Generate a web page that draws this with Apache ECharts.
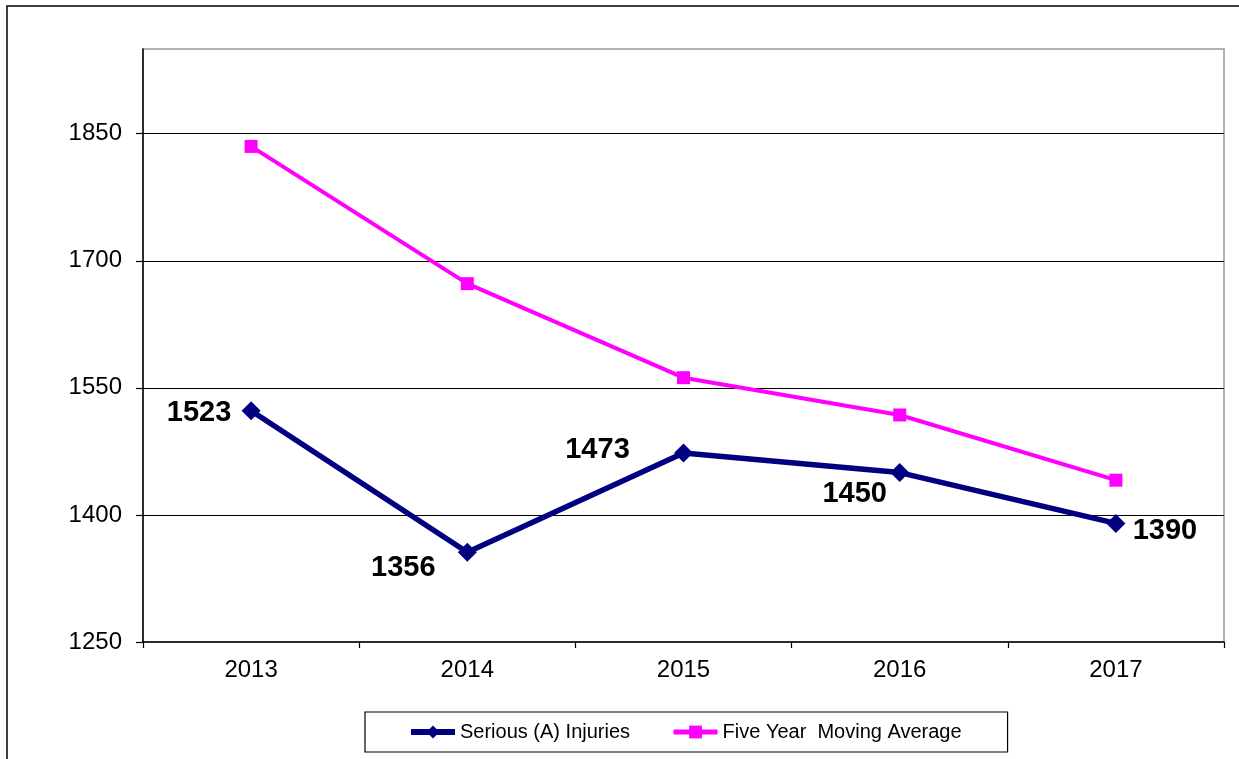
<!DOCTYPE html>
<html>
<head>
<meta charset="utf-8">
<script src="https://cdn.jsdelivr.net/npm/echarts@6/dist/echarts.min.js"></script>
<style>
html,body{margin:0;padding:0;background:#fff;}
#chart{width:1239px;height:759px;}
</style>
</head>
<body>
<div id="chart"></div>
<script>
var years = ['2013', '2014', '2015', '2016', '2017'];
var seriousInjuries = [1523, 1356, 1473, 1450, 1390];
var movingAverage = [1835, 1673, 1562, 1518, 1441];
var yTicks = [1250, 1400, 1550, 1700, 1850];
var seriesNames = ['Serious (A) Injuries', 'Five Year  Moving Average'];

var labelOffsets = [[-52, 2], [-64, 16], [-86, -3], [-45, 21], [49, 8]];

var FONT = '"Liberation Sans", Arial, sans-serif';
var chart = echarts.init(document.getElementById('chart'), null, {renderer: 'canvas'});

var option = {
  backgroundColor: '#fff',
  animation: false,
  graphic: [{
    type: 'rect',
    shape: {x: 7, y: 6, width: 1400, height: 1000},
    style: {fill: 'none', stroke: '#000', lineWidth: 1.5},
    z: -10
  }],
  grid: {
    left: 143, top: 49, right: 1239 - 1224, bottom: 759 - 642,
    show: true, borderColor: '#999', borderWidth: 1.5, backgroundColor: 'transparent'
  },
  legend: {
    left: 365, top: 712,
    padding: [10, 46, 10, 43],
    itemGap: 41,
    itemWidth: 44,
    itemHeight: 16,
    itemTextGap: 4,
    borderColor: '#000', borderWidth: 1.2,
    textStyle: {fontFamily: FONT, fontSize: 20, color: '#000'},
    data: [
      {name: seriesNames[0], lineStyle: {width: 6}},
      {name: seriesNames[1], lineStyle: {width: 5}}
    ]
  },
  xAxis: {
    type: 'category',
    data: years,
    boundaryGap: true,
    axisLine: {lineStyle: {color: '#000', width: 1.5}},
    axisTick: {show: true, inside: false, length: 6, lineStyle: {color: '#000', width: 1.2}},
    axisLabel: {fontFamily: FONT, fontSize: 24, color: '#000', margin: 16},
    splitLine: {show: false}
  },
  yAxis: {
    type: 'value',
    min: 1250, max: 1950, interval: 150,
    axisLine: {show: true, lineStyle: {color: '#000', width: 1.5}},
    axisTick: {show: true, length: 7, lineStyle: {color: '#000', width: 1.2}, customValues: yTicks},
    axisLabel: {fontFamily: FONT, fontSize: 24, color: '#000', margin: 21, customValues: yTicks,
      formatter: function (v) { return String(v); }},
    splitLine: {show: false}
  },
  series: [
    {
      name: seriesNames[0],
      type: 'line',
      z: 5,
      data: seriousInjuries.map(function (v, i) {
        return {
          value: v,
          label: {
            show: true, position: 'inside', offset: labelOffsets[i],
            color: '#000', fontFamily: FONT, fontSize: 29, fontWeight: 'bold',
            align: 'center', verticalAlign: 'middle', formatter: '{c}'
          }
        };
      }),
      symbol: 'diamond',
      symbolSize: 19,
      color: '#000080',
      lineStyle: {color: '#000080', width: 5.5},
      itemStyle: {color: '#000080'},
      markLine: {
        silent: true,
        symbol: 'none',
        label: {show: false},
        lineStyle: {color: '#000', type: 'solid', width: 1.2},
        data: yTicks.slice(1).map(function (t) { return {yAxis: t}; }),
        z: 1
      }
    },
    {
      name: seriesNames[1],
      type: 'line',
      z: 4,
      data: movingAverage,
      symbol: 'rect',
      symbolSize: 13,
      color: '#FF00FF',
      lineStyle: {color: '#FF00FF', width: 4},
      itemStyle: {color: '#FF00FF'},
      label: {show: false}
    }
  ]
};
chart.setOption(option);
</script>
</body>
</html>
